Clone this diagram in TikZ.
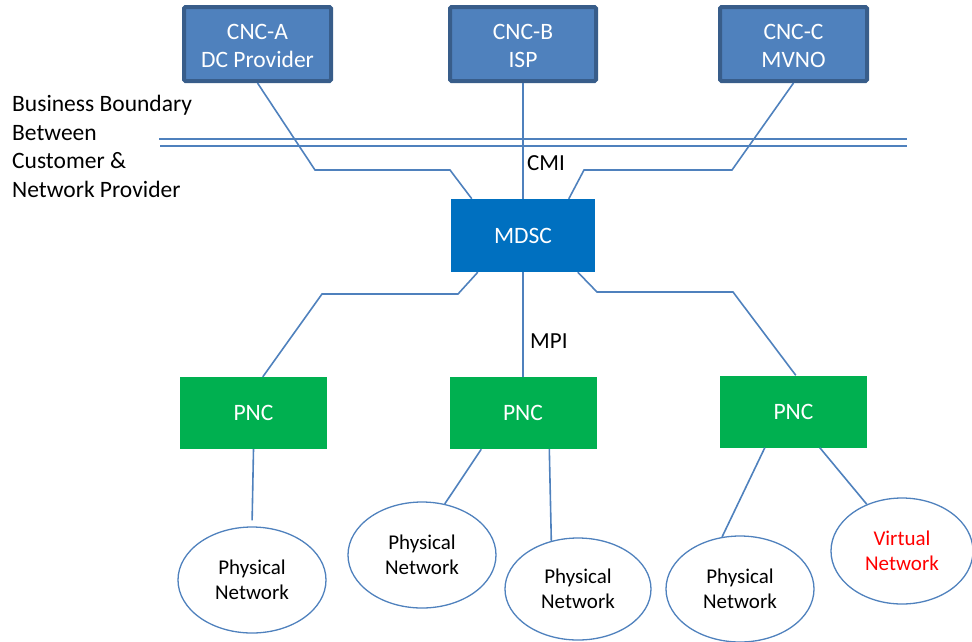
\documentclass[tikz,border=0pt]{standalone}
\usepackage{fontspec}
\setmainfont{Carlito}
\usetikzlibrary{shapes.geometric}
\definecolor{cncfill}{HTML}{4F81BD}
\definecolor{cncborder}{HTML}{385D8A}
\definecolor{mdscfill}{HTML}{0070C0}
\definecolor{pncfill}{HTML}{00B050}
\definecolor{linecol}{HTML}{4F81BD}
\definecolor{vnred}{HTML}{FF0000}
\begin{document}
\begin{tikzpicture}[x=1pt,y=-1pt,
  bigfont/.style={font=\fontsize{23.5}{28.7}\selectfont},
  cncbox/.style={rectangle, rounded corners=1.5pt, fill=cncfill, draw=cncborder, line width=4pt,
     minimum width=147pt, minimum height=74pt, inner sep=0pt, text=white, align=center, bigfont},
  mdscbox/.style={rectangle, fill=mdscfill, minimum width=144pt, minimum height=73pt, inner sep=0pt,
     text=white, bigfont},
  pncbox/.style={rectangle, fill=pncfill, minimum width=147pt, minimum height=72pt, inner sep=0pt,
     text=white, bigfont},
  netell/.style={ellipse, draw=linecol, line width=1.3pt, fill=white, minimum width=148pt,
     minimum height=106pt, inner sep=0pt, align=center, font=\fontsize{21}{25}\selectfont},
  conn/.style={draw=linecol, line width=1.6pt},
  lbl/.style={anchor=west, inner sep=0pt, font=\fontsize{23}{28}\selectfont}
]
\useasboundingbox (0,0) rectangle (972,641);

% top boxes
\node[cncbox] (cncA) at (257.5,44) {\rule{0pt}{19pt}CNC-A\\DC Provider};
\node[cncbox, minimum width=146pt] (cncB) at (523,44) {\rule{0pt}{19pt}CNC-B\\ISP};
\node[cncbox] (cncC) at (793.5,44) {\rule{0pt}{19pt}CNC-C\\MVNO};

% MDSC
\node[mdscbox] (mdsc) at (523,235.5) {MDSC};

% PNCs
\node[pncbox] (pnc1) at (253.5,413) {PNC};
\node[pncbox] (pnc2) at (523,413) {PNC};
\node[pncbox] (pnc3) at (793.5,411.5) {PNC};

% networks
\node[netell] (e1) at (252,580) {Physical\\Network};
\node[netell] (e2) at (422,555) {Physical\\Network};
\node[netell, minimum width=146pt, minimum height=102pt] (e3) at (578,589) {Physical\\Network};
\node[netell] (e4) at (740,589) {Physical\\Network};
\node[netell, minimum width=142pt, text=vnred] (e5) at (902,551) {Virtual\\Network};

% business boundary
\coordinate (bl1) at (159,139);
\coordinate (br1) at (907,139);
\coordinate (bl2) at (160,146);
\coordinate (br2) at (907,146);
\draw[conn] (bl1) -- (br1);
\draw[conn] (bl2) -- (br2);

\node[anchor=north west, inner sep=0pt, align=left, bigfont] (bb) at (12,95)
  {Business Boundary\\Between\\Customer \&\\Network Provider};

% bend points
\coordinate (a1) at (315,170);
\coordinate (a2) at (450,170);
\coordinate (c1) at (732,170);
\coordinate (c2) at (584,170);
\coordinate (m1) at (458,294);
\coordinate (m2) at (322,294);
\coordinate (m3) at (597,292);
\coordinate (m4) at (733,292);

% CMI connectors
\draw[conn] (cncA.south) -- (a1) -- (a2) -- ([xshift=21pt]mdsc.north west);
\draw[conn] (cncB.south) -- (mdsc.north);
\draw[conn] (cncC.south) -- (c1) -- (c2) -- ([xshift=118pt]mdsc.north west);

% MPI connectors
\draw[conn] ([xshift=27pt]mdsc.south west) -- (m1) -- (m2) -- ([xshift=83pt]pnc1.north west);
\draw[conn] (mdsc.south) -- (pnc2.north);
\draw[conn] ([xshift=127pt]mdsc.south west) -- (m3) -- (m4) -- ([xshift=76pt]pnc3.north west);

% PNC to networks
\draw[conn, shorten >=6pt] (pnc1.south) -- (e1.north);
\draw[conn] ([xshift=32pt]pnc2.south west) -- (e2.66);
\draw[conn] ([xshift=100pt]pnc2.south west) -- (e3.119);
\draw[conn] ([xshift=45pt]pnc3.south west) -- (e4.109);
\draw[conn] ([xshift=100pt]pnc3.south west) -- (e5.127);

% labels
\node[lbl] (cmi) at (527,163) {CMI};
\node[lbl] (mpi) at (530,341) {MPI};
\end{tikzpicture}
\end{document}
